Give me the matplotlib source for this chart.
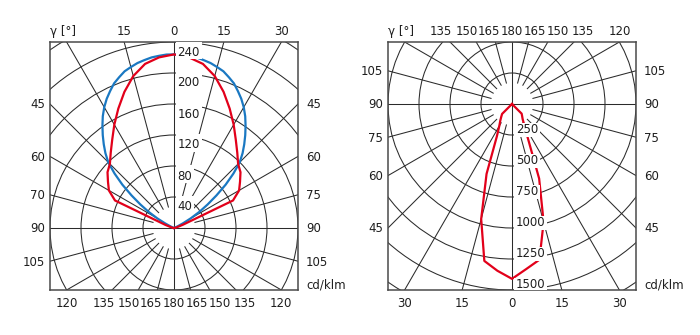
import numpy as np
import matplotlib.pyplot as plt
from matplotlib.patches import Circle, Rectangle

plt.rcParams['font.family'] = 'DejaVu Sans'

FS = 8.5
INK = '#1e1e1e'
GRID = '#2b2b2b'
RED = '#e2001a'
BLUE = '#1a78c2'

# luminous intensity in cd/klm against gamma (deg) from 0 to 90
gamma = np.arange(0, 95, 5)
gamma_fine = np.arange(0, 92.5, 2.5)

# first diagram (0 deg pointing up), symmetric halves
red_a = [224, 221, 215, 203, 187, 170, 154, 139, 127, 117, 112, 104, 97, 84, 12, 4, 2, 1, 0]
blue_a = [224, 224, 223, 222, 220, 218, 215, 212, 207, 202, 195, 188, 180, 171, 161, 151,
          141, 131, 120, 104, 87, 69, 53, 39, 25, 13, 5, 1, 0, 0, 0, 0, 0, 0, 0, 0, 0]

# second diagram (0 deg pointing down), left and right half
red_b_left = [1410, 1350, 1285, 960, 600, 290, 205, 165, 135, 113, 0, 0, 0, 0, 0, 0, 0, 0, 0]
red_b_right = [1410, 1335, 1275, 985, 640, 300, 200, 150, 127, 110, 0, 0, 0, 0, 0, 0, 0, 0, 0]

rings_a = [40, 80, 120, 160, 200, 240, 280]
ring_labels_a = [40, 80, 120, 160, 200, 240]
rings_b = [250, 500, 750, 1000, 1250, 1500, 1750]
ring_labels_b = [250, 500, 750, 1000, 1250, 1500]

# angle labels round the frames
top_a = ['15', '0', '15', '30']
top_a_ang = [-15, 0, 15, 30]
left_a = ['45', '60', '70', '90', '105']
right_a = ['45', '60', '75', '90', '105']
side_ang = [45, 60, 75, 90, 105]
bottom_a = ['120', '135', '150', '165', '180', '165', '150', '135', '120']
bottom_a_dx = [-107, -70.5, -45.6, -22.8, 0, 22.8, 45.6, 70.5, 107]

top_b = ['135', '150', '165', '180', '165', '150', '135', '120']
top_b_dx = [-71.3, -45.6, -22.8, 0, 22.8, 45.6, 70.3, 107.8]
left_b = ['105', '90', '75', '60', '45']
right_b = ['105', '90', '75', '60', '45']
side_b_ang = [105, 90, 75, 60, 45]
bottom_b = ['30', '15', '0', '15', '30']
bottom_b_ang = [-30, -15, 0, 15, 30]


def outline(ang, left, right, down=False):
    g = np.radians(ang)
    l = np.asarray(left, float)
    r = np.asarray(right, float)
    x = np.r_[-(l * np.sin(g))[::-1], (r * np.sin(g))[1:]]
    y = np.r_[(l * np.cos(g))[::-1], (r * np.cos(g))[1:]]
    return x, (-y if down else y)


def draw_grid(ax, rings, r0, rmax):
    for r in rings:
        ax.add_patch(Circle((0, 0), r, fill=False, lw=0.75, ec=GRID, zorder=1))
    for a in range(15, 360, 15):
        if a % 90 == 0:
            continue
        t = np.radians(a)
        ax.plot([r0 * np.sin(t), rmax * np.sin(t)], [r0 * np.cos(t), rmax * np.cos(t)],
                lw=0.75, color=GRID, zorder=1)
    ax.axhline(0, lw=0.75, color=GRID, zorder=1)
    ax.axvline(0, lw=0.75, color=GRID, zorder=1)


def label(ax, s, xy, dx, dy, ha='center', **kw):
    return ax.annotate(s, xy=xy, xytext=(dx, dy), textcoords='offset pixels', ha=ha,
                       va='baseline', fontsize=FS, color=INK, annotation_clip=False, **kw)


def setup(ax, xlim, ylim):
    ax.set_xlim(*xlim)
    ax.set_ylim(*ylim)
    ax.set_xticks([])
    ax.set_yticks([])
    for sp in ax.spines.values():
        sp.set_linewidth(1.1)
        sp.set_color('#4a4a4a')


def blank_under(ax, txt, ring_y):
    # white patch behind a ring value, stretched so the ring line is cut there
    ext = txt.get_window_extent()
    ry = ax.transData.transform((0, ring_y))[1]
    x0, x1 = ext.x0 - 2, ext.x1 + 2
    y0 = min(ext.y0, ry - 1.5)
    y1 = max(ext.y1, ry + 1.5)
    inv = ax.transData.inverted()
    (dx0, dy0), (dx1, dy1) = inv.transform([(x0, y0), (x1, y1)])
    ax.add_patch(Rectangle((dx0, dy0), dx1 - dx0, dy1 - dy0, fc='white', ec='none', zorder=5))


fig = plt.figure(figsize=(7, 3.35), dpi=100)
ax1 = fig.add_axes([50 / 700, 45 / 335, 248 / 700, 248 / 335])
ax2 = fig.add_axes([388 / 700, 45 / 335, 248 / 700, 248 / 335])

# ---- left diagram ----
setup(ax1, (-160, 160), (-80, 240))
draw_grid(ax1, rings_a, 28, 400)
x, y = outline(gamma_fine, blue_a, blue_a)
ax1.plot(x, y, color=BLUE, lw=1.6, zorder=3, solid_joinstyle='round')
x, y = outline(gamma, red_a, red_a)
ax1.plot(x, y, color=RED, lw=1.6, zorder=4, solid_joinstyle='round')

ring_txt_a = [label(ax1, str(r), (0, r), 3.5, -13.5, ha='left', zorder=6) for r in ring_labels_a]

for s, a in zip(top_a, top_a_ang):
    label(ax1, s, (240 * np.tan(np.radians(a)), 240), 0, 7.3)
label(ax1, 'γ [°]', (-160, 240), 0, 7.3, ha='left')
for s, a in zip(left_a, side_ang):
    t = np.radians(a)
    label(ax1, s, (-160, 160 * np.cos(t) / np.sin(t)), -5, -4.3, ha='right')
for s, a in zip(right_a, side_ang):
    t = np.radians(a)
    label(ax1, s, (160, 160 * np.cos(t) / np.sin(t)), 8, -4.3, ha='left')
for s, d in zip(bottom_a, bottom_a_dx):
    label(ax1, s, (0, -80), d, -17.3)
label(ax1, 'cd/klm', (160, -80), 8, 1, ha='left')

# ---- right diagram ----
setup(ax2, (-1000, 1000), (-1500, 500))
draw_grid(ax2, rings_b, 175, 2500)
x, y = outline(gamma, red_b_left, red_b_right, down=True)
ax2.plot(x, y, color=RED, lw=1.6, zorder=4, solid_joinstyle='round')

ring_txt_b = [label(ax2, str(r), (0, -r), 3.7, 1.7, ha='left', zorder=6) for r in ring_labels_b]

for s, d in zip(top_b, top_b_dx):
    label(ax2, s, (0, 500), d, 7.3)
label(ax2, 'γ [°]', (-1000, 500), 0, 7.3, ha='left')
for s, a in zip(left_b, side_b_ang):
    t = np.radians(a)
    label(ax2, s, (-1000, -1000 * np.cos(t) / np.sin(t)), -5, -4.3, ha='right')
for s, a in zip(right_b, side_b_ang):
    t = np.radians(a)
    label(ax2, s, (1000, -1000 * np.cos(t) / np.sin(t)), 8, -4.3, ha='left')
for s, a in zip(bottom_b, bottom_b_ang):
    label(ax2, s, (1500 * np.tan(np.radians(a)), -1500), 0, -17.3)
label(ax2, 'cd/klm', (1000, -1500), 8, 1, ha='left')

fig.canvas.draw()
for t, r in zip(ring_txt_a, ring_labels_a):
    blank_under(ax1, t, r)
for t, r in zip(ring_txt_b, ring_labels_b):
    blank_under(ax2, t, -r)

fig.savefig('out.png', dpi=100)
